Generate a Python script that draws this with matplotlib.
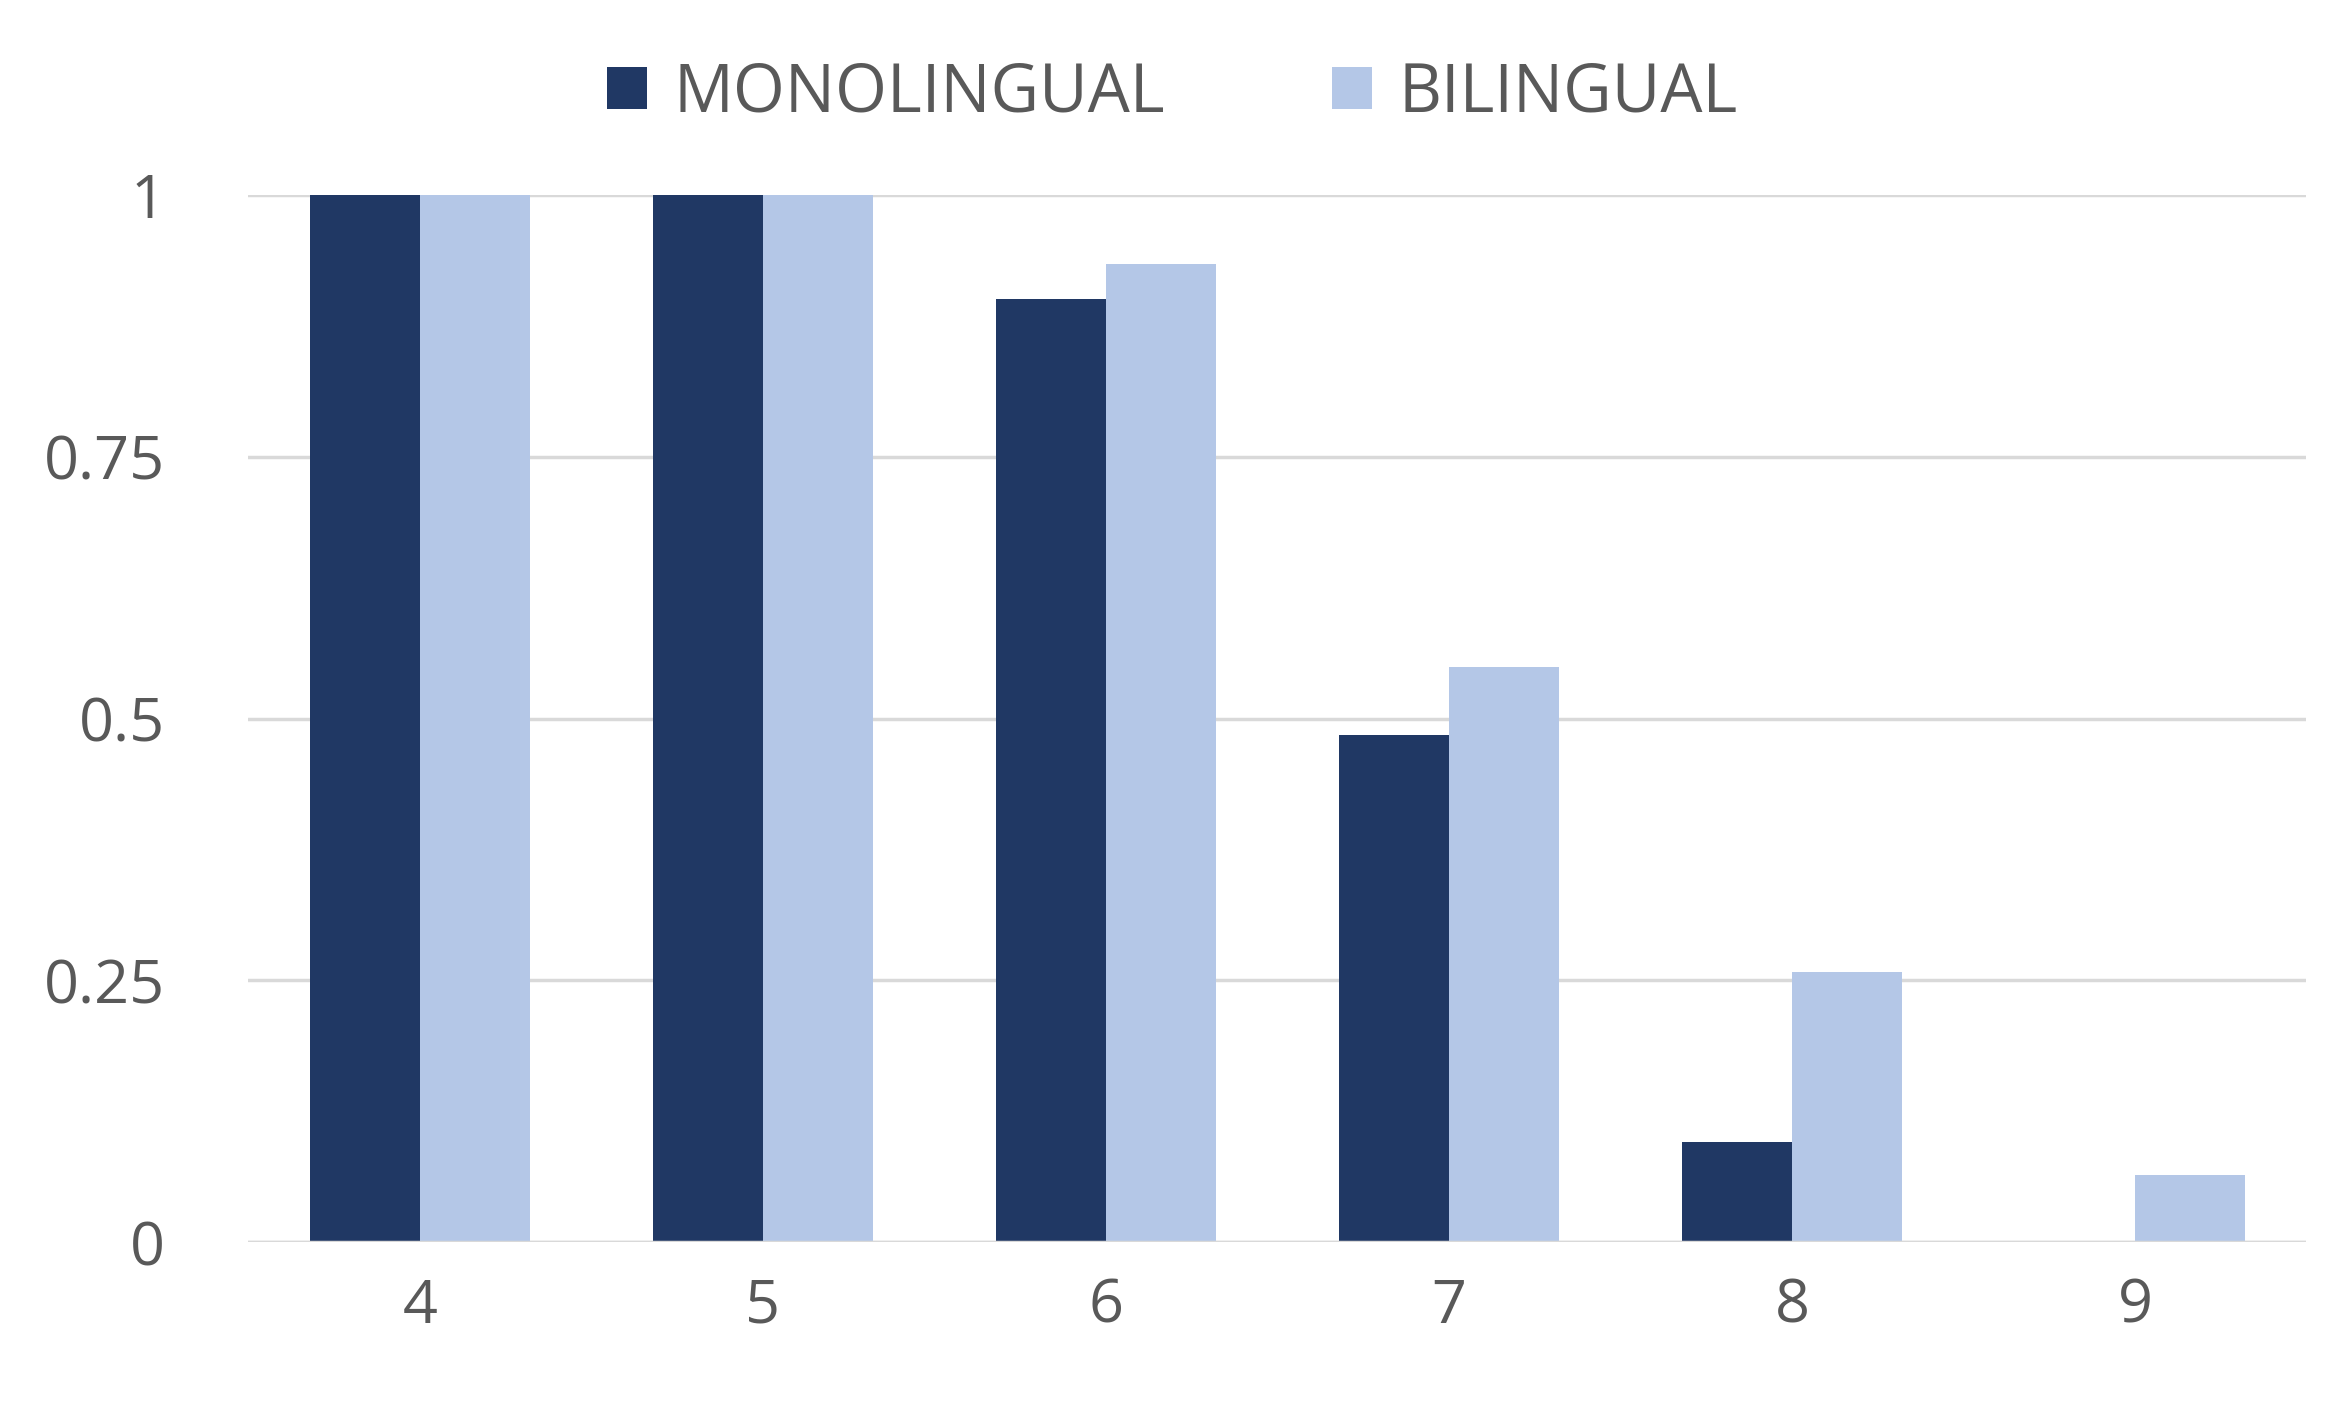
import matplotlib.pyplot as plt
import numpy as np

categories = ['4', '5', '6', '7', '8', '9']
monolingual = [1.0, 1.0, 0.901, 0.484, 0.096, 0.0]
bilingual = [1.0, 1.0, 0.934, 0.549, 0.258, 0.064]

plt.rcParams['font.family'] = ['Open Sans', 'DejaVu Sans']
grey = '#595959'

fig = plt.figure(figsize=(23.44, 14.02), dpi=100)
ax = fig.add_axes([0.106, 0.114, 0.878, 0.747])

x = np.arange(len(categories))
w = 0.32
ax.bar(x - w / 2, monolingual, w, color='#203864', label='MONOLINGUAL', zorder=3)
ax.bar(x + w / 2, bilingual, w, color='#B4C7E7', label='BILINGUAL', zorder=3)

ax.set_xlim(-0.5, 5.5)
ax.set_ylim(0, 1)
ax.set_yticks([0, 0.25, 0.5, 0.75, 1])
ax.set_yticklabels(['0', '0.25', '0.5', '0.75', '1'])
ax.set_xticks(x)
ax.set_xticklabels(categories)
ax.grid(axis='y', color='#D9D9D9', linewidth=2.5, zorder=0)
ax.tick_params(length=0, labelsize=44, colors=grey, pad=25)
ax.tick_params(axis='y', pad=60)
for lbl in ax.get_yticklabels():
    lbl.set_horizontalalignment('right')
for s in ax.spines.values():
    s.set_visible(False)
ax.axhline(0, color='#D9D9D9', linewidth=2.5, zorder=4)

fig.legend(loc='upper center', bbox_to_anchor=(0.5, 1.0), ncol=2, frameon=False,
           fontsize=48, labelcolor=grey, handlelength=0.6, handleheight=0.6,
           columnspacing=2.5, handletextpad=0.4)

fig.savefig('out.png', dpi=100)
